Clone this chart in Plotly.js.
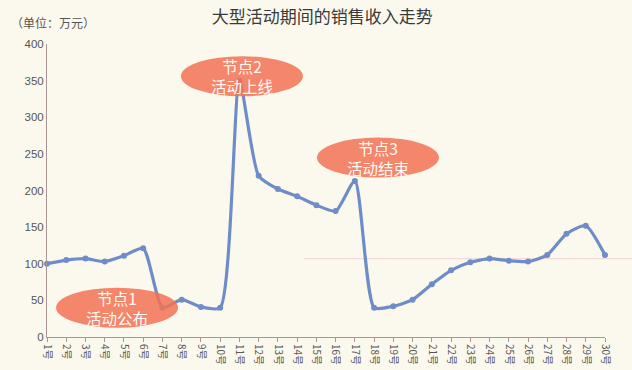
<!DOCTYPE html>
<html>
<head>
<meta charset="utf-8">
<script src="https://cdn.plot.ly/plotly-3.0.1.min.js"></script>
<style>html,body{margin:0;padding:0;background:#fbf9ee;}#chart{width:632px;height:370px;}</style>
</head>
<body>
<div id="chart"></div>
<script>
const days = ["1号","2号","3号","4号","5号","6号","7号","8号","9号","10号","11号","12号","13号","14号","15号","16号","17号","18号","19号","20号","21号","22号","23号","24号","25号","26号","27号","28号","29号","30号"];
const revenue = [100,105,107,103,111,121,40,51,41,40,350,220,202,192,180,172,213,40,42,51,72,91,102,107,104,103,112,141,152,112];
const nodeDays = ["7号","11号","17号"];
const nodeLabels = ["节点1<br>活动公布","节点2<br>活动上线","节点3<br>活动结束"];
const nodeY = [40,356,245];
const nodeXShift = [-2.36,0.13,1.2];

const font = "Liberation Sans, Noto Sans CJK SC, sans-serif";
const cjk = "Noto Sans CJK SC, Liberation Sans, sans-serif";

const shapes = [{
  type:'line', xref:'paper', yref:'y', x0:0.46, x1:1.05, y0:107, y1:107,
  line:{color:'rgba(235,190,205,0.6)', width:1}, layer:'below'
}].concat(nodeDays.map((d,i)=>({
  type:'circle', xref:'x', yref:'y', xsizemode:'pixel', ysizemode:'pixel',
  xanchor: days.indexOf(d)+nodeXShift[i], yanchor: nodeY[i],
  x0:-61, x1:61, y0:-20, y1:20,
  fillcolor:'rgba(242,114,84,0.85)', line:{width:0}, layer:'above'
})));
const annotations = nodeDays.map((d,i)=>({
  xref:'x', yref:'y', x: days.indexOf(d)+nodeXShift[i], y: nodeY[i],
  text: nodeLabels[i], showarrow:false,
  font:{family:cjk, size:15.5, color:'#fffaf5'}
}));

Plotly.newPlot('chart', [{
  x: days, y: revenue, type:'scatter', mode:'lines+markers',
  line:{shape:'spline', smoothing:0.6, color:'#6e8dc8', width:3.2},
  marker:{size:6, color:'#6e8dc8'},
  cliponaxis:false,
  hoverinfo:'skip'
}], {
  width:632, height:370,
  margin:{l:47, r:27, t:44, b:33},
  paper_bgcolor:'#fbf9ee', plot_bgcolor:'#fbf9ee',
  showlegend:false,
  title:{text:'大型活动期间的销售收入走势', font:{family:cjk, size:17, color:'#3a3a3a'}, x:0.51, xanchor:'center', y:0.955, yanchor:'middle'},
  xaxis:{type:'category', range:[0,29], showgrid:false, zeroline:false,
    showline:true, linecolor:'#a89696', linewidth:1, ticks:'outside', ticklen:4, tickcolor:'#a89696',
    tickangle:90, tickfont:{family:cjk, size:10, color:'#555555'}},
  yaxis:{range:[0,400], dtick:50, showgrid:false, zeroline:false,
    showline:true, linecolor:'#a89696', linewidth:1, ticks:'',
    tickfont:{family:font, size:11.5, color:'#555555'}},
  shapes: shapes,
  annotations: annotations.concat([{xref:'paper', yref:'paper', x:-0.068, y:1.072, xanchor:'left', yanchor:'middle',
    text:'（单位：万元）', showarrow:false, font:{family:cjk, size:12, color:'#555555'}}])
}, {staticPlot:true});
</script>
</body>
</html>
